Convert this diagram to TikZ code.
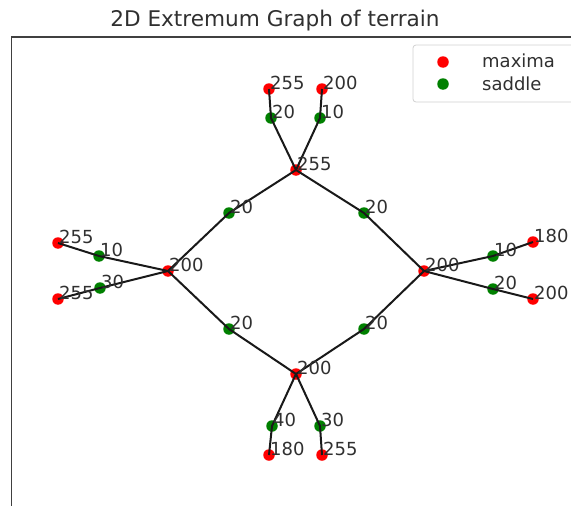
\documentclass[tikz,border=0pt]{standalone}
\usepackage{fontspec}
\setmainfont{DejaVu Sans}
\definecolor{mplred}{HTML}{FF0000}
\definecolor{mplgreen}{HTML}{008000}
\definecolor{inktext}{HTML}{303030}
\begin{document}
\begin{tikzpicture}[x=1pt,y=-1pt,
  maxdot/.style={circle,fill=mplred,inner sep=0pt,minimum size=11.5pt},
  saddot/.style={circle,fill=mplgreen,inner sep=0pt,minimum size=11.5pt},
  edge/.style={line width=2pt,black!90},
  lbl/.style={anchor=base west,inner sep=0pt,xshift=1pt,text=inktext,font=\fontsize{18}{20}\selectfont},
  legtext/.style={anchor=base west,inner sep=0pt,text=inktext,font=\fontsize{18}{20}\selectfont}]
\useasboundingbox (0,0) rectangle (571,506);

% title and axes frame
\node[anchor=base,inner sep=0pt,text=inktext,font=\fontsize{21.6}{24}\selectfont] (title) at (275,27) {2D Extremum Graph of terrain};
\draw[line width=1.6pt,black!75] (11.5,37) rectangle (620,506.5);

% maxima
\node[maxdot] (c1) at (296,170) {};
\node[maxdot] (c2) at (168,271) {};
\node[maxdot] (c3) at (424,271) {};
\node[maxdot] (c4) at (296,374) {};
\node[maxdot] (t1) at (269,89) {};
\node[maxdot] (t2) at (322,89) {};
\node[maxdot] (l1) at (58,243) {};
\node[maxdot] (l2) at (58,299) {};
\node[maxdot] (r1) at (533,242) {};
\node[maxdot] (r2) at (533,299) {};
\node[maxdot] (b1) at (269,455) {};
\node[maxdot] (b2) at (322,455) {};

% saddles
\node[saddot] (s1) at (229,213) {};
\node[saddot] (s2) at (364,213) {};
\node[saddot] (s3) at (229,329) {};
\node[saddot] (s4) at (364,329) {};
\node[saddot] (ts1) at (271,118) {};
\node[saddot] (ts2) at (320,118) {};
\node[saddot] (ls1) at (99,256) {};
\node[saddot] (ls2) at (100,288) {};
\node[saddot] (rs1) at (493,256) {};
\node[saddot] (rs2) at (493,289) {};
\node[saddot] (bs1) at (272,426) {};
\node[saddot] (bs2) at (320,426) {};

% graph edges through the saddles
\draw[edge] (c2.center) -- (s1.center) -- (c1.center);
\draw[edge] (c1.center) -- (s2.center) -- (c3.center);
\draw[edge] (c2.center) -- (s3.center) -- (c4.center);
\draw[edge] (c4.center) -- (s4.center) -- (c3.center);
\draw[edge] (c1.center) -- (ts1.center) -- (t1.center);
\draw[edge] (c1.center) -- (ts2.center) -- (t2.center);
\draw[edge] (c2.center) -- (ls1.center) -- (l1.center);
\draw[edge] (c2.center) -- (ls2.center) -- (l2.center);
\draw[edge] (c3.center) -- (rs1.center) -- (r1.center);
\draw[edge] (c3.center) -- (rs2.center) -- (r2.center);
\draw[edge] (c4.center) -- (bs1.center) -- (b1.center);
\draw[edge] (c4.center) -- (bs2.center) -- (b2.center);

% height values
\node[lbl] at (c1.center) {255};
\node[lbl] at (c2.center) {200};
\node[lbl] at (c3.center) {200};
\node[lbl] at (c4.center) {200};
\node[lbl] at (t1.center) {255};
\node[lbl] at (t2.center) {200};
\node[lbl] at (l1.center) {255};
\node[lbl] at (l2.center) {255};
\node[lbl] at (r1.center) {180};
\node[lbl] at (r2.center) {200};
\node[lbl] at (b1.center) {180};
\node[lbl] at (b2.center) {255};
\node[lbl] at (s1.center) {20};
\node[lbl] at (s2.center) {20};
\node[lbl] at (s3.center) {20};
\node[lbl] at (s4.center) {20};
\node[lbl] at (ts1.center) {20};
\node[lbl] at (ts2.center) {10};
\node[lbl] at (ls1.center) {10};
\node[lbl] at (ls2.center) {30};
\node[lbl] at (rs1.center) {10};
\node[lbl] at (rs2.center) {20};
\node[lbl] at (bs1.center) {40};
\node[lbl] at (bs2.center) {30};

% legend
\draw[rounded corners=3pt,draw=black!18,fill=white,line width=0.8pt] (413,45) rectangle (620,102);
\node[maxdot] (legmax) at (443,62) {};
\node[saddot] (legsad) at (443,84) {};
\node[legtext] (legmaxt) at (482,67) {maxima};
\node[legtext] (legsadt) at (482,90) {saddle};
\end{tikzpicture}
\end{document}
